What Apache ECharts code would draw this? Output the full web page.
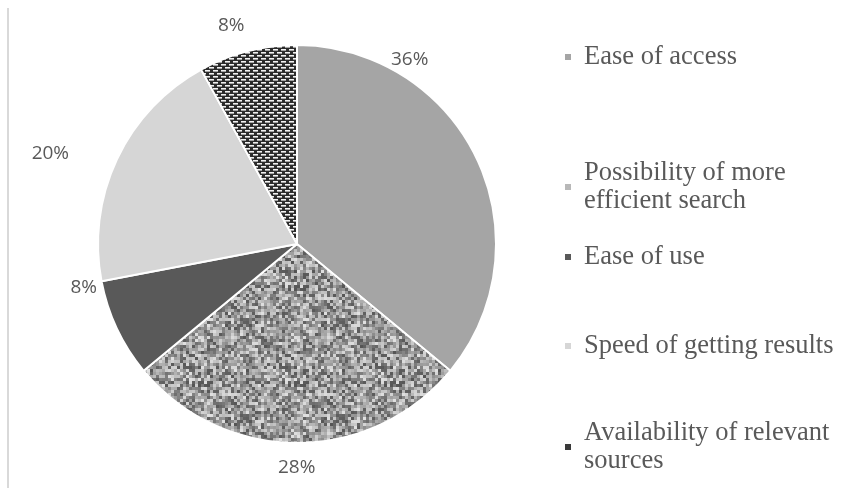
<!DOCTYPE html>
<html><head><meta charset="utf-8">
<script src="https://cdn.jsdelivr.net/npm/echarts@6/dist/echarts.min.js"></script>
<style>html,body{margin:0;padding:0;background:#fff}#c{width:843px;height:488px}</style>
</head><body><div id="c"></div>
<script>
const categories = ['Ease of access', 'Possibility of more efficient search', 'Ease of use', 'Speed of getting results', 'Availability of relevant sources'];
const values = [36, 28, 8, 20, 8];
const legendLabels = ['Ease of access', 'Possibility of more\nefficient search', 'Ease of use', 'Speed of getting results', 'Availability of relevant\nsources'];

function noisePattern() {
  const c = document.createElement('canvas');
  c.width = 96; c.height = 96;
  const ctx = c.getContext('2d');
  for (let i = 0; i < 32; i++) for (let j = 0; j < 32; j++) {
    let h = (i * 374761393 + j * 668265263) >>> 0;
    h = ((h ^ (h >>> 13)) * 1274126177) >>> 0;
    h = (h ^ (h >>> 16)) >>> 0;
    const v = 85 + (h % 140);
    ctx.fillStyle = 'rgb(' + v + ',' + v + ',' + v + ')';
    ctx.fillRect(i * 3, j * 3, 3, 3);
  }
  return c;
}
function brickPattern() {
  const c = document.createElement('canvas');
  c.width = 8; c.height = 6;
  const ctx = c.getContext('2d');
  ctx.fillStyle = '#2b2b2b'; ctx.fillRect(0, 0, 8, 6);
  ctx.fillStyle = '#f2f2f2';
  ctx.fillRect(1, 1, 5, 1.6);
  ctx.fillRect(5, 4, 5, 1.6); ctx.fillRect(0, 4, 2, 1.6);
  return c;
}
const colors = ['#a5a5a5', {image: noisePattern(), repeat: 'repeat'}, '#595959', '#d6d6d6', {image: brickPattern(), repeat: 'repeat'}];
const iconColors = ['#a5a5a5', '#b8b8b8', '#595959', '#d6d6d6', '#3a3a3a'];
const legendTops = [38, 154, 238, 327, 414];
const labelShift = [[-102, -95], [-24, 13], [-4, -46], [-32, -1], [5, -14]];

const chart = echarts.init(document.getElementById('c'));
const legends = categories.map((name, i) => ({
  data: [{name: name, itemStyle: {color: iconColors[i]}}], orient: 'vertical', left: 558, top: legendTops[i],
  icon: 'rect', itemWidth: 8, itemHeight: 8,
  formatter: () => legendLabels[i],
  selectedMode: false,
  textStyle: {fontFamily: 'Liberation Serif', fontSize: 26.5, color: '#595959', lineHeight: 28, padding: [0, 0, 0, 7]}
}));
chart.setOption({
  animation: false,
  legend: legends,
  graphic: [{type: 'rect', left: 7, top: 8, shape: {width: 2, height: 480}, style: {fill: '#d9d9d9'}}],
  series: [{
    type: 'pie', center: [297, 244], radius: 199, startAngle: 90,
    itemStyle: {borderColor: '#fff', borderWidth: 2},
    label: {show: true, position: 'outside', formatter: '{c}%', fontFamily: 'Open Sans', fontSize: 19, color: '#595959'},
    labelLine: {show: false, length: 12, length2: 0},
    labelLayout: p => ({dx: labelShift[p.dataIndex][0], dy: labelShift[p.dataIndex][1]}),
    data: categories.map((n, i) => ({name: n, value: values[i], itemStyle: {color: colors[i]}}))
  }]
});
</script></body></html>
